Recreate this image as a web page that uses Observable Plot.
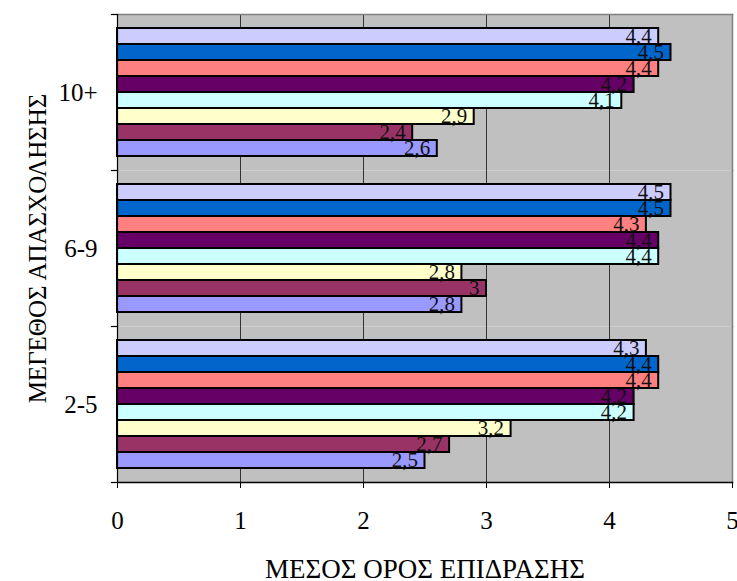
<!DOCTYPE html>
<html>
<head>
<meta charset="utf-8">
<script src="https://cdn.jsdelivr.net/npm/d3@7"></script>
<script src="https://cdn.jsdelivr.net/npm/@observablehq/plot@0.6"></script>
<style>
  html, body { margin: 0; padding: 0; background: #fff; }
  #chart svg { display: block; }
</style>
</head>
<body>
<div id="chart"></div>
<script>
// Company size groups (top to bottom) and the eight rated items within each group
const groups = ["10+", "6-9", "2-5"];
const seriesKeys = ["s1", "s2", "s3", "s4", "s5", "s6", "s7", "s8"];
const seriesColors = ["#CCCCFF", "#0066CC", "#FF8080", "#660066", "#CCFFFF", "#FFFFCC", "#993366", "#9999FF"];

// Mean impact per item, listed top to bottom within each group
const values10plus = [4.4, 4.5, 4.4, 4.2, 4.1, 2.9, 2.4, 2.6];
const values6to9 = [4.5, 4.5, 4.3, 4.4, 4.4, 2.8, 3, 2.8];
const values2to5 = [4.3, 4.4, 4.4, 4.2, 4.2, 3.2, 2.7, 2.5];

const xTicks = [0, 1, 2, 3, 4, 5];
const gridTicks = [1, 2, 3, 4];

const byGroup = {"10+": values10plus, "6-9": values6to9, "2-5": values2to5};
const rows = groups.flatMap(g => byGroup[g].map((v, i) => ({group: g, series: seriesKeys[i], value: v})));

const W = 737, H = 581;
const mL = 117, mR = 5, mT = 14, mB = 99;
const frameW = W - mL - mR;
const font = "'Liberation Serif', 'Times New Roman', serif";
const comma = v => String(v).replace(".", ",");

const chart = Plot.plot({
  width: W,
  height: H,
  marginLeft: mL,
  marginRight: mR,
  marginTop: mT,
  marginBottom: mB,
  style: {fontFamily: font, background: "#fff", color: "#000", overflow: "visible"},
  x: {domain: [0, 5]},
  y: {domain: seriesKeys, axis: null, paddingInner: 0, paddingOuter: 0.73},
  fy: {domain: groups, padding: 0},
  color: {domain: seriesKeys, range: seriesColors},
  marks: [
    Plot.frame({fill: "#C0C0C0", stroke: null}),
    Plot.ruleX(gridTicks, {stroke: "#333", strokeWidth: 1}),
    Plot.frame({anchor: "top", facetAnchor: "top", stroke: "#808080", strokeWidth: 1.5}),
    Plot.frame({anchor: "right", stroke: "#808080", strokeWidth: 1.5}),
    Plot.barX(rows, {x: "value", y: "series", fy: "group", fill: "series", stroke: "#000", strokeWidth: 2}),
    Plot.text(rows, {
      x: "value", y: "series", fy: "group",
      text: d => comma(d.value),
      textAnchor: "end", dx: -7, dy: 0,
      fontSize: 21, fill: "#111"
    }),
    Plot.frame({anchor: "left", stroke: "#000", strokeWidth: 1.2}),
    Plot.frame({anchor: "bottom", facetAnchor: "bottom", stroke: "#000", strokeWidth: 1.5}),
    Plot.frame({anchor: "top", stroke: "#000", strokeWidth: 1.2, insetLeft: -6, insetRight: frameW}),
    Plot.frame({anchor: "bottom", facetAnchor: "bottom", stroke: "#000", strokeWidth: 1.2, insetLeft: -6, insetRight: frameW}),
    Plot.axisX({
      ticks: xTicks, tickFormat: d => String(d), tickSize: 6, tickPadding: 23, fontSize: 25,
      label: null
    }),
    Plot.axisX({
      ticks: [], tickSize: 0, fontSize: 27,
      label: "ΜΕΣΟΣ ΟΡΟΣ ΕΠΙΔΡΑΣΗΣ", labelAnchor: "center", labelOffset: 95, labelArrow: "none"
    }),
    Plot.axisFy({
      anchor: "left", tickSize: 0, tickPadding: 20, fontSize: 25,
      label: "ΜΕΓΕΘΟΣ ΑΠΑΣΧΟΛΗΣΗΣ", labelAnchor: "center", labelOffset: 89
    })
  ]
});

document.getElementById("chart").appendChild(chart);
</script>
</body>
</html>
